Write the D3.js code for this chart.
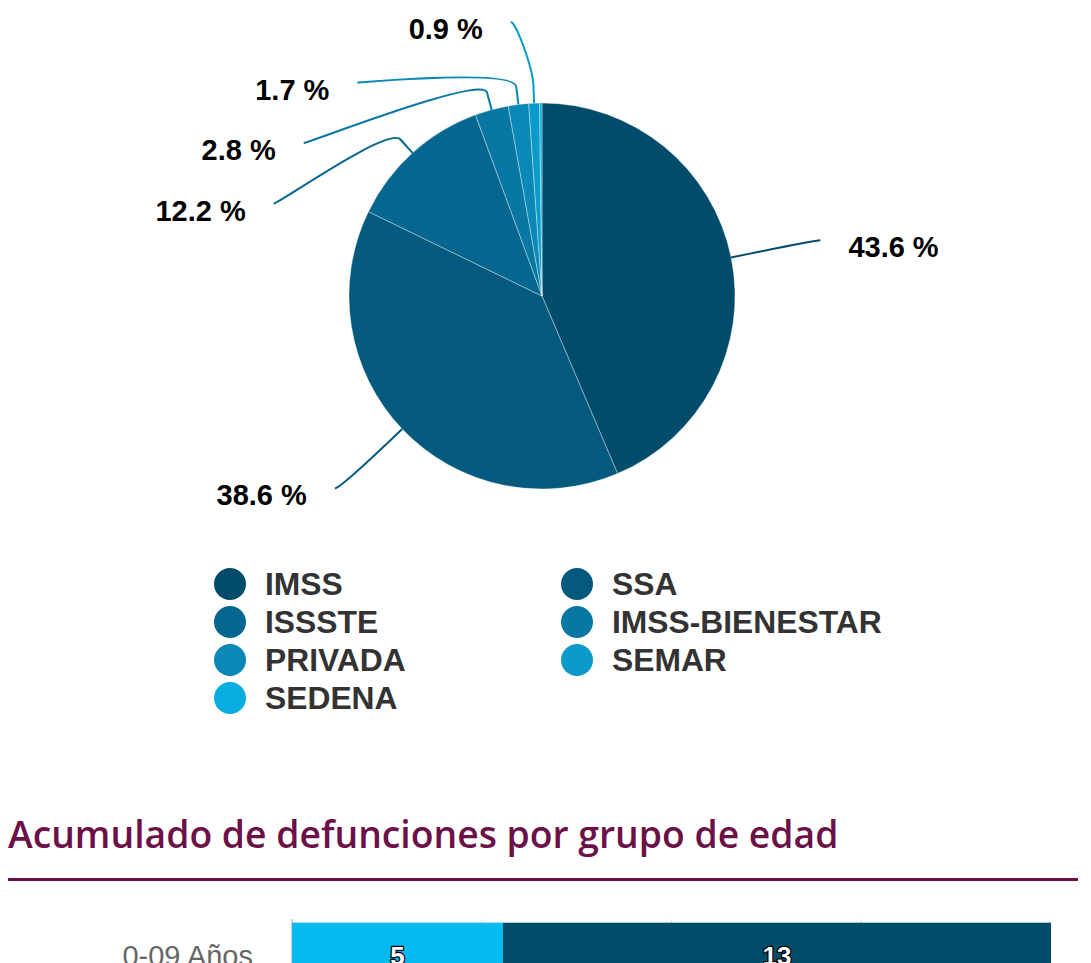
<!DOCTYPE html>
<html>
<head>
<meta charset="utf-8">
<script src="https://cdn.jsdelivr.net/npm/d3@7.9.0/dist/d3.min.js"></script>
<style>
  body { margin: 0; background: #fff; overflow: hidden; }
  svg { display: block; }
</style>
</head>
<body>
<svg id="chart" width="1091" height="963"></svg>
<script>
// Pie data: share of deaths by institution (%)
const instituciones = ["IMSS", "SSA", "ISSSTE", "IMSS-BIENESTAR", "PRIVADA", "SEMAR", "SEDENA"];
const porcentajes = [43.6, 38.6, 12.2, 2.8, 1.7, 0.9, 0.2];
const colores = ["#024c6b", "#03597e", "#05678f", "#0877a3", "#0a88b6", "#0b9bca", "#07aee0"];

// Bar data: cumulative deaths by age group (only the first row is in view)
const gruposEdad = ["0-09 Años"];
const serieClara = [5];
const serieOscura = [13];
const coloresBarra = ["#03bbee", "#024c6b"];
const ticksPct = [0, 0.25, 0.5, 0.75, 1];

const svg = d3.select("#chart");

// ---- pie ----
const cx = 542, cy = 296, radius = 193;
const labelDistance = 86;   // label circle beyond the pie edge
const breakOffset = 18;     // where the soft connector bends
const labelPad = 5;
const labelTop = 22;        // highest a label may sit
const labelGap = 60.5;      // vertical slot per label
const textGap = 28;
const minLabelPct = 0.5;    // smaller slices get no label

let pieData = instituciones.map((name, i) => ({ name: name, value: porcentajes[i], color: colores[i] }));

let sliceGenerator = d3.pie().sort(null).value(d => d.value);
let arcData = sliceGenerator(pieData);
let arcGenerator = d3.arc().innerRadius(0).outerRadius(radius);

let pieG = svg.append("g").attr("transform", `translate(${cx},${cy})`);
pieG.selectAll("path")
  .data(arcData)
  .join("path")
  .attr("d", arcGenerator)
  .attr("fill", d => d.data.color)
  .attr("stroke", "#ffffff")
  .attr("stroke-width", 0.6)
  .attr("stroke-opacity", 0.6);

// point at a given distance from the centre along angle a (d3 angle: 0 = top, clockwise)
const at = (a, dist) => ({ x: cx + dist * Math.sin(a), y: cy - dist * Math.cos(a) });

const R = radius + labelDistance;
let labels = arcData
  .filter(d => d.data.value >= minLabelPct)
  .map(d => {
    let a = (d.startAngle + d.endAngle) / 2;
    return {
      d: d,
      left: a > Math.PI,
      natY: at(a, R).y,
      touch: at(a, radius),
      brk: at(a, radius + breakOffset)
    };
  });

// spread labels on each side so they don't overlap
[true, false].forEach(side => {
  let items = labels.filter(l => l.left === side).sort((a, b) => a.natY - b.natY);
  let prev = -Infinity;
  items.forEach(it => {
    it.y = Math.max(it.natY, labelTop, prev + labelGap);
    prev = it.y;
  });
});

labels.forEach(l => {
  // labels pinned at the top use their natural y for x
  let yForX = l.y < labelTop + 2 ? l.natY + 1 : l.y;
  let dy = Math.max(-R, Math.min(R, yForX - cy));
  let off = Math.sqrt(R * R - dy * dy) + labelPad;
  l.x = l.left ? cx - off : cx + off;
});

let labelG = svg.append("g");
labels.forEach(l => {
  let c1x = l.x + (l.left ? 5 : -5);
  let p = d3.path();
  p.moveTo(l.x, l.y);
  p.bezierCurveTo(c1x, l.y, 2 * l.brk.x - l.touch.x, 2 * l.brk.y - l.touch.y, l.brk.x, l.brk.y);
  p.lineTo(l.touch.x, l.touch.y);
  labelG.append("path")
    .attr("d", p.toString())
    .attr("fill", "none")
    .attr("stroke", l.d.data.color)
    .attr("stroke-width", 2);

  labelG.append("text")
    .attr("x", l.left ? l.x - textGap : l.x + textGap)
    .attr("y", l.y + 17)
    .attr("text-anchor", l.left ? "end" : "start")
    .style("font-family", "'Liberation Sans', Arial, sans-serif")
    .style("font-weight", "bold")
    .style("font-size", "29px")
    .style("fill", "#000")
    .text(`${l.d.data.value} %`);
});

// ---- legend ----
const legendX = 230, legendColW = 347, legendY = 584, legendRowH = 38;
let legendG = svg.append("g");
pieData.forEach((d, i) => {
  let col = i % 2, row = Math.floor(i / 2);
  let gx = legendX + col * legendColW, gy = legendY + row * legendRowH;
  legendG.append("circle")
    .attr("cx", gx).attr("cy", gy).attr("r", 16)
    .attr("fill", d.color);
  legendG.append("text")
    .attr("x", gx + 35).attr("y", gy + 11)
    .style("font-family", "'Liberation Sans', Arial, sans-serif")
    .style("font-weight", "bold")
    .style("font-size", "31.8px")
    .style("fill", "#333")
    .text(d.name);
});

// ---- second chart: title ----
svg.append("text")
  .attr("x", 8).attr("y", 848)
  .style("font-family", "'Open Sans', sans-serif")
  .style("font-weight", "600")
  .style("font-size", "37.3px")
  .style("fill", "#6c1048")
  .text("Acumulado de defunciones por grupo de edad");

svg.append("line")
  .attr("x1", 8).attr("x2", 1078)
  .attr("y1", 879.5).attr("y2", 879.5)
  .attr("stroke", "#6c1048")
  .attr("stroke-width", 3);

// ---- stacked bar (percent) ----
const plotLeft = 292, plotRight = 1051, plotTop = 919;
let barRows = gruposEdad.map((g, i) => ({ grupo: g, clara: serieClara[i], oscura: serieOscura[i] }));
let stacked = d3.stack().keys(["clara", "oscura"]).offset(d3.stackOffsetExpand)(barRows);

let x = d3.scaleLinear().domain([0, 1]).range([plotLeft, plotRight]);
let y = d3.scaleBand().domain(gruposEdad).range([plotTop, plotTop + 74 * gruposEdad.length])
  .paddingInner(0.1).paddingOuter(0.05);

let grid = svg.append("g");
ticksPct.forEach(t => {
  grid.append("line")
    .attr("x1", x(t)).attr("x2", x(t))
    .attr("y1", plotTop).attr("y2", 1100)
    .attr("stroke", t === 0 ? "#ccd6eb" : "#e6e6e6")
    .attr("stroke-width", t === 0 ? 2 : 1);
});

let barG = svg.append("g");
stacked.forEach((layer, k) => {
  barG.selectAll(null)
    .data(layer)
    .join("rect")
    .attr("x", d => x(d[0]))
    .attr("width", d => x(d[1]) - x(d[0]))
    .attr("y", d => y(d.data.grupo))
    .attr("height", y.bandwidth())
    .attr("fill", coloresBarra[k]);

  barG.selectAll(null)
    .data(layer)
    .join("text")
    .attr("x", d => (x(d[0]) + x(d[1])) / 2)
    .attr("y", d => y(d.data.grupo) + y.bandwidth() / 2)
    .attr("dy", "0.35em")
    .attr("text-anchor", "middle")
    .style("font-family", "'Liberation Sans', Arial, sans-serif")
    .style("font-weight", "bold")
    .style("font-size", "26px")
    .style("fill", "#fff")
    .style("stroke", "#000")
    .style("stroke-width", "2.5px")
    .style("paint-order", "stroke")
    .style("stroke-linejoin", "round")
    .text(d => d.data[layer.key]);
});

svg.append("g").selectAll("text")
  .data(gruposEdad)
  .join("text")
  .attr("x", 253)
  .attr("y", d => y(d) + y.bandwidth() / 2)
  .attr("dy", "0.35em")
  .attr("text-anchor", "end")
  .style("font-family", "'Liberation Sans', Arial, sans-serif")
  .style("font-size", "29px")
  .style("fill", "#666")
  .text(d => d);
</script>
</body>
</html>
